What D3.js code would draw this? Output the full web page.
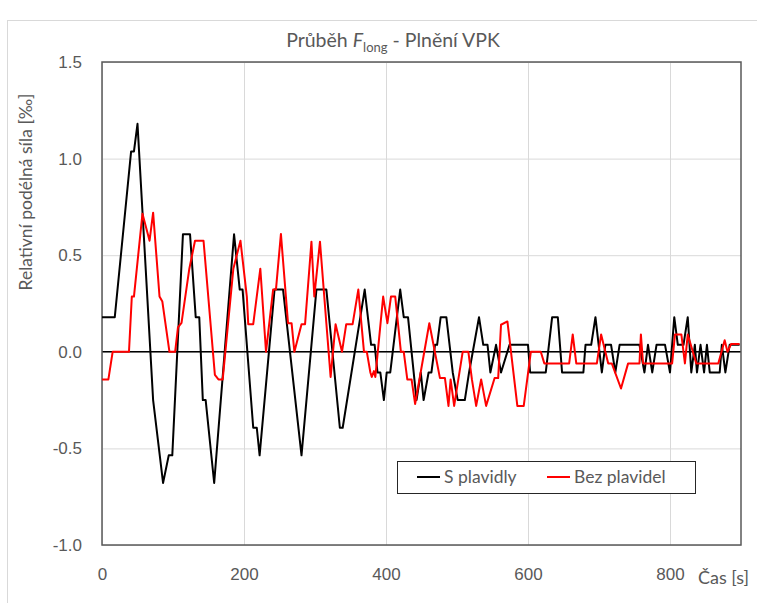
<!DOCTYPE html>
<html lang="cs">
<head>
<meta charset="UTF-8"/>
<title>Průběh Flong - Plnění VPK</title>
<script src="https://d3js.org/d3.v7.min.js"></script>
<style>
body { margin: 0; background: #fff; font-family: Lato, 'Open Sans', sans-serif; }
svg { display: block; }
text { fill: #595959; font-size: 17px; }
.grid line { stroke: #d9d9d9; stroke-width: 1; }
.grid path { stroke-width: 0; }
.tick text { font-size: 17px; fill: #595959; }
</style>
</head>
<body>
<svg width="757" height="603"></svg>
<script>
// series names
const seriesNames = ['S plavidly', 'Bez plavidel'];
const seriesColors = ['#000000', '#ff0000'];

// S plavidly : time [s]
const timeS = [0, 18, 41, 45, 50, 72, 86, 94, 99, 114, 124, 132, 137, 142, 146, 158, 186, 194, 198, 213, 218, 222,
  243, 255, 281, 302, 316, 335, 339, 370, 379, 384, 388, 392, 397, 401, 406, 420, 425, 431, 443, 449, 453, 460, 464,
  469, 472, 477, 485, 494, 501, 511, 517, 531, 537, 543, 547, 555, 562, 574, 600, 603, 625, 634, 642, 648, 678, 681,
  689, 695, 704, 709, 717, 723, 729, 757, 764, 769, 775, 781, 793, 800, 806, 811, 819, 825, 830, 835, 838, 843, 848,
  852, 856, 870, 873, 878, 884, 898];
// S plavidly : relative force [‰]
const valS = [0.179, 0.179, 1.037, 1.037, 1.18, -0.25, -0.679, -0.536, -0.536, 0.608, 0.608, 0.179, 0.179, -0.25, -0.25,
  -0.679, 0.608, 0.322, 0.322, -0.393, -0.393, -0.536, 0.322, 0.322, -0.536, 0.322, 0.322, -0.393, -0.393, 0.322,
  0.036, 0.036, -0.107, -0.107, -0.25, -0.107, -0.107, 0.322, 0.179, 0.179, -0.25, -0.107, -0.25, -0.107, -0.107,
  0.036, 0.036, 0.179, 0.179, -0.107, -0.25, -0.25, -0.107, 0.179, 0.036, 0.036, -0.107, 0.036, -0.107, 0.036, 0.036,
  -0.107, -0.107, 0.179, 0.179, -0.107, -0.107, 0.036, 0.036, 0.179, -0.107, 0.036, 0.036, -0.107, 0.036, 0.036,
  -0.107, 0.036, -0.107, 0.036, 0.036, -0.107, 0.179, 0.036, 0.036, 0.179, -0.107, 0.036, -0.107, 0.036, -0.107,
  0.036, -0.107, -0.107, 0.036, -0.107, 0.036, 0.036];

// Bez plavidel : time [s]
const timeB = [0, 9, 15, 38, 42, 45, 57, 67, 72, 81, 85, 95, 103, 107, 112, 123, 131, 143, 159, 164, 170, 185, 195,
  204, 206, 213, 223, 231, 241, 245, 252, 262, 267, 271, 281, 286, 295, 299, 307, 316, 322, 329, 338, 344, 353, 361,
  369, 373, 378, 380, 383, 385, 396, 402, 407, 413, 421, 425, 430, 436, 441, 461, 476, 483, 488, 491, 496, 508, 516,
  521, 527, 534, 541, 553, 558, 562, 571, 585, 594, 604, 618, 623, 658, 663, 668, 697, 703, 713, 718, 731, 741, 757,
  759, 762, 803, 807, 816, 821, 825, 837, 868, 877, 881, 886, 898];
// Bez plavidel : relative force [‰]
const valB = [-0.143, -0.143, 0, 0, 0.286, 0.286, 0.715, 0.575, 0.72, 0.286, 0.26, 0, 0, 0.126, 0.15, 0.43, 0.575,
  0.575, -0.12, -0.143, -0.143, 0.43, 0.575, 0.286, 0.143, 0.143, 0.43, 0, 0.322, 0.322, 0.61, 0.148, 0.148, 0, 0.143,
  0.143, 0.57, 0.286, 0.57, 0.148, -0.13, 0.143, 0, 0.143, 0.143, 0.322, 0, 0, -0.107, -0.13, -0.1, -0.13, 0.286,
  0.148, 0.286, 0.286, 0, 0, -0.143, -0.143, -0.27, 0.148, -0.136, -0.136, -0.28, -0.143, -0.28, 0, 0, -0.143, -0.28,
  -0.143, -0.28, -0.136, -0.136, 0.14, 0.157, -0.28, -0.28, 0, 0, -0.06, -0.06, 0.09, -0.06, -0.06, 0.09, -0.06,
  -0.06, -0.19, -0.06, -0.06, 0.09, -0.06, -0.06, 0.09, 0.09, -0.06, 0.09, -0.06, -0.06, 0.06, 0, 0.04, 0.04];

const xTicks = [0, 200, 400, 600, 800];
const yTicks = [-1.0, -0.5, 0.0, 0.5, 1.0, 1.5];

const svg = d3.select('svg');

// outer chart frame
svg.append('rect')
  .attr('x', 7.5).attr('y', 20.5)
  .attr('width', 760).attr('height', 600)
  .attr('fill', 'none')
  .attr('stroke', '#d9d9d9');

const plotLeft = 102, plotTop = 62, plotRight = 741, plotBottom = 545;
const width = plotRight - plotLeft, height = plotBottom - plotTop;

const chart = svg.append('g').attr('transform', `translate(${plotLeft}, ${plotTop})`);

const xScale = d3.scaleLinear().domain([0, 900]).range([0, width]);
const yScale = d3.scaleLinear().domain([-1, 1.5]).range([height, 0]);

// grid
chart.append('g')
  .attr('class', 'grid')
  .call(d3.axisLeft(yScale).tickValues(yTicks).tickSize(-width).tickFormat(''));
chart.append('g')
  .attr('class', 'grid')
  .attr('transform', `translate(0, ${height})`)
  .call(d3.axisBottom(xScale).tickValues(xTicks).tickSize(-height).tickFormat(''));

// tick labels (plain hyphen for the minus sign, like the original)
const yAxis = chart.append('g')
  .call(d3.axisLeft(yScale).tickValues(yTicks).tickSize(0).tickPadding(20)
    .tickFormat(d => d.toFixed(1)));
yAxis.select('.domain').remove();
const xAxis = chart.append('g')
  .attr('transform', `translate(0, ${height})`)
  .call(d3.axisBottom(xScale).tickValues(xTicks).tickSize(0).tickPadding(23).tickFormat(d3.format('d')));
xAxis.select('.domain').remove();

// zero line
chart.append('line')
  .attr('x1', 0).attr('x2', width)
  .attr('y1', yScale(0)).attr('y2', yScale(0))
  .attr('stroke', '#000').attr('stroke-width', 1.5);

// plot frame
chart.append('rect')
  .attr('width', width).attr('height', height)
  .attr('fill', 'none')
  .attr('stroke', '#595959')
  .attr('stroke-width', 1.5);

const line = d3.line()
  .x(d => xScale(d[0]))
  .y(d => yScale(d[1]));

const series = [d3.zip(timeS, valS), d3.zip(timeB, valB)];

chart.selectAll('path.series')
  .data(series)
  .enter()
  .append('path')
  .attr('class', 'series')
  .attr('d', line)
  .attr('fill', 'none')
  .attr('stroke', (d, i) => seriesColors[i])
  .attr('stroke-width', 2)
  .attr('stroke-linejoin', 'round');

// title
const title = svg.append('text')
  .attr('x', 393).attr('y', 47)
  .attr('text-anchor', 'middle')
  .style('font-size', '19.5px');
title.append('tspan').text('Průběh ');
title.append('tspan').attr('font-style', 'italic').text('F');
title.append('tspan').attr('dy', 5).style('font-size', '13px').text('long');
title.append('tspan').attr('dy', -5).text(' - Plnění VPK');

// axis titles
svg.append('text')
  .attr('transform', 'translate(32, 192) rotate(-90)')
  .attr('text-anchor', 'middle')
  .style('font-size', '17.5px')
  .text('Relativní podélná síla [‰]');

svg.append('text')
  .attr('x', 698).attr('y', 584)
  .style('font-size', '18px')
  .text('Čas [s]');

// legend
const legend = svg.append('g');
legend.append('rect')
  .attr('x', 397.5).attr('y', 461.5)
  .attr('width', 298).attr('height', 32)
  .attr('fill', '#fff')
  .attr('stroke', '#262626');
const items = legend.selectAll('g.item')
  .data(seriesNames)
  .enter()
  .append('g')
  .attr('transform', (d, i) => `translate(${[417, 547][i]}, 477)`);
items.append('line')
  .attr('x1', 0).attr('x2', 23)
  .attr('stroke', (d, i) => seriesColors[i])
  .attr('stroke-width', 2);
items.append('text')
  .attr('x', 27).attr('y', 6)
  .style('font-size', '17.5px')
  .text(d => d);
</script>
</body>
</html>
